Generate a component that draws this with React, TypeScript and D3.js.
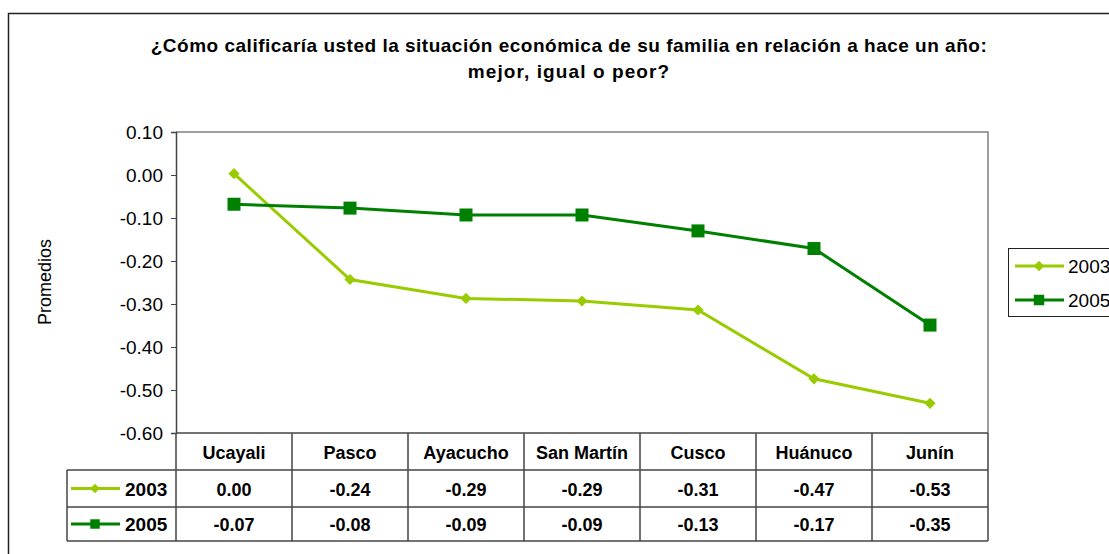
import React, { useEffect, useRef } from "react";
import * as d3 from "d3";

const categories = ["Ucayali", "Pasco", "Ayacucho", "San Martín", "Cusco", "Huánuco", "Junín"];
const series2003 = [0.003, -0.243, -0.287, -0.293, -0.314, -0.474, -0.531];
const series2005 = [-0.068, -0.077, -0.093, -0.093, -0.13, -0.171, -0.349];
const yTicks = [0.1, 0.0, -0.1, -0.2, -0.3, -0.4, -0.5, -0.6];
const seriesNames = ["2003", "2005"];
const titleLines = [
  "¿Cómo calificaría usted la situación económica de su familia en relación a hace un año:",
  "mejor, igual o peor?",
];

const LIGHT = "#99CC00";
const DARK = "#008000";
const FONT = "'Liberation Sans', Arial, sans-serif";

function App() {
  const ref = useRef<SVGSVGElement>(null);

  useEffect(() => {
    const svg = d3.select(ref.current);
    svg.selectAll("*").remove();

    const left = 176;
    const right = 988;
    const top = 132;
    const bottom = 433;

    const x = d3.scaleBand().domain(categories).range([left, right]);
    const y = d3.scaleLinear().domain([-0.6, 0.1]).range([bottom, top]);
    // plain hyphen for negatives, like the original
    const fmt = (d: number) => (Math.abs(d) < 0.005 ? 0 : d).toFixed(2);
    const cx = (i: number) => (x(categories[i]) as number) + x.bandwidth() / 2;

    // outer chart border
    svg
      .append("rect")
      .attr("x", 8.5)
      .attr("y", 13.5)
      .attr("width", 1200)
      .attr("height", 600)
      .attr("fill", "none")
      .attr("stroke", "#222")
      .attr("stroke-width", 1.5);

    // title
    svg
      .append("g")
      .selectAll("text")
      .data(titleLines)
      .enter()
      .append("text")
      .attr("x", 569)
      .attr("y", (d, i) => 52 + i * 26)
      .attr("text-anchor", "middle")
      .attr("font-family", FONT)
      .attr("font-weight", "bold")
      .attr("font-size", 19)
      .attr("letter-spacing", (d, i) => (i === 0 ? 0.5 : 1.1))
      .attr("fill", "#000")
      .text((d) => d);

    // plot frame (top + right)
    svg
      .append("path")
      .attr("d", `M${left},${top}H${right}V${bottom}`)
      .attr("fill", "none")
      .attr("stroke", "#808080")
      .attr("stroke-width", 1.5);

    // y axis
    const yAxis = svg
      .append("g")
      .attr("transform", `translate(${left},0)`)
      .call(d3.axisLeft(y).tickValues(yTicks).tickSize(5).tickPadding(8).tickFormat((d) => fmt(+d)));
    yAxis.select(".domain").attr("stroke", "#444").attr("stroke-width", 1.5);
    yAxis.selectAll(".tick line").attr("stroke", "#444");
    yAxis
      .selectAll(".tick text")
      .attr("font-family", FONT)
      .attr("font-size", 19)
      .attr("fill", "#000");

    svg
      .append("text")
      .attr("transform", `translate(51,282)rotate(-90)`)
      .attr("text-anchor", "middle")
      .attr("font-family", FONT)
      .attr("font-size", 18)
      .text("Promedios");

    // lines
    const line = d3
      .line<number>()
      .x((d, i) => cx(i))
      .y((d) => y(d));

    svg
      .append("path")
      .attr("d", line(series2003))
      .attr("fill", "none")
      .attr("stroke", LIGHT)
      .attr("stroke-width", 3);

    svg
      .append("path")
      .attr("d", line(series2005))
      .attr("fill", "none")
      .attr("stroke", DARK)
      .attr("stroke-width", 3);

    const diamond = d3.symbol().type(d3.symbolDiamond2).size(80);
    const square = d3.symbol().type(d3.symbolSquare).size(169);

    svg
      .selectAll(".m2003")
      .data(series2003)
      .enter()
      .append("path")
      .attr("class", "m2003")
      .attr("d", diamond)
      .attr("transform", (d, i) => `translate(${cx(i)},${y(d)})`)
      .attr("fill", LIGHT);

    svg
      .selectAll(".m2005")
      .data(series2005)
      .enter()
      .append("path")
      .attr("class", "m2005")
      .attr("d", square)
      .attr("transform", (d, i) => `translate(${cx(i)},${y(d)})`)
      .attr("fill", DARK);

    // legend
    const legendItems = [
      { name: seriesNames[0], color: LIGHT, sym: d3.symbol().type(d3.symbolDiamond2).size(72) },
      { name: seriesNames[1], color: DARK, sym: d3.symbol().type(d3.symbolSquare).size(110) },
    ];
    const legend = svg.append("g");
    legend
      .append("rect")
      .attr("x", 1008.5)
      .attr("y", 248.5)
      .attr("width", 200)
      .attr("height", 68)
      .attr("fill", "white")
      .attr("stroke", "#222");
    legendItems.forEach((it, i) => {
      const cy = 266 + i * 34;
      legend
        .append("line")
        .attr("x1", 1015)
        .attr("x2", 1064)
        .attr("y1", cy)
        .attr("y2", cy)
        .attr("stroke", it.color)
        .attr("stroke-width", 3);
      legend
        .append("path")
        .attr("d", it.sym)
        .attr("transform", `translate(1039,${cy})`)
        .attr("fill", it.color);
      legend
        .append("text")
        .attr("x", 1068)
        .attr("y", cy + 7)
        .attr("font-family", FONT)
        .attr("font-size", 19)
        .text(it.name);
    });

    // data table
    const rowTop = [433, 470, 507];
    const rowBottom = 541;
    const tableLeft = 67;
    const gridColor = "#444";
    const table = svg.append("g");

    const hLines = [
      { x1: left, y: bottom },
      { x1: tableLeft, y: rowTop[1] },
      { x1: tableLeft, y: rowTop[2] },
      { x1: tableLeft, y: rowBottom },
    ];
    table
      .selectAll(".hline")
      .data(hLines)
      .enter()
      .append("line")
      .attr("class", "hline")
      .attr("x1", (d) => d.x1)
      .attr("x2", right)
      .attr("y1", (d) => d.y)
      .attr("y2", (d) => d.y)
      .attr("stroke", gridColor)
      .attr("stroke-width", 1.5);

    table
      .append("line")
      .attr("x1", tableLeft)
      .attr("x2", tableLeft)
      .attr("y1", rowTop[1])
      .attr("y2", rowBottom)
      .attr("stroke", gridColor)
      .attr("stroke-width", 1.5);
    const xs = categories.map((c) => x(c) as number).concat([right]);
    table
      .selectAll(".vline")
      .data(xs)
      .enter()
      .append("line")
      .attr("class", "vline")
      .attr("x1", (d) => d)
      .attr("x2", (d) => d)
      .attr("y1", bottom)
      .attr("y2", rowBottom)
      .attr("stroke", gridColor)
      .attr("stroke-width", 1.5);

    const rowMid = (row: number) => (rowTop[row] + (row < 2 ? rowTop[row + 1] : rowBottom)) / 2;

    table
      .selectAll(".cat")
      .data(categories)
      .enter()
      .append("text")
      .attr("x", (d) => (x(d) as number) + x.bandwidth() / 2)
      .attr("y", rowMid(0) + 7)
      .attr("text-anchor", "middle")
      .attr("font-family", FONT)
      .attr("font-weight", "bold")
      .attr("font-size", 18)
      .text((d) => d);

    [series2003, series2005].forEach((s, r) => {
      table
        .selectAll(".v" + r)
        .data(s)
        .enter()
        .append("text")
        .attr("class", "v" + r)
        .attr("x", (d, i) => cx(i))
        .attr("y", rowMid(r + 1) + 7)
        .attr("text-anchor", "middle")
        .attr("font-family", FONT)
        .attr("font-weight", "bold")
        .attr("font-size", 18)
        .text((d) => fmt(d));
    });

    const tableSyms = [
      d3.symbol().type(d3.symbolDiamond2).size(60),
      d3.symbol().type(d3.symbolSquare).size(90),
    ];
    legendItems.forEach((it, i) => {
      const cy = rowMid(i + 1);
      table
        .append("line")
        .attr("x1", 71)
        .attr("x2", 120)
        .attr("y1", cy)
        .attr("y2", cy)
        .attr("stroke", it.color)
        .attr("stroke-width", 3);
      table
        .append("path")
        .attr("d", tableSyms[i])
        .attr("transform", `translate(95,${cy})`)
        .attr("fill", it.color);
      table
        .append("text")
        .attr("x", 125)
        .attr("y", cy + 7)
        .attr("font-family", FONT)
        .attr("font-weight", "bold")
        .attr("font-size", 19)
        .text(it.name);
    });
  }, []);

  return (
    <svg
      ref={ref}
      width={1109}
      height={554}
      style={{ position: "absolute", left: 0, top: 0, background: "white" }}
    />
  );
}

export default App;
